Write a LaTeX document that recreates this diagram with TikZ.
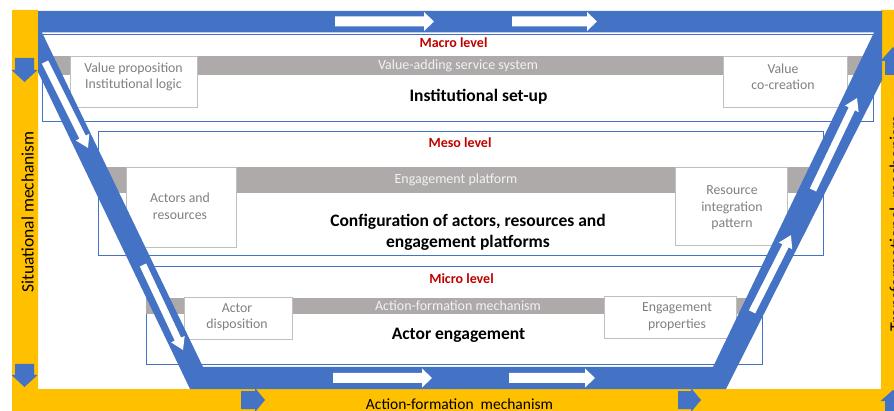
\documentclass[tikz,border=0pt]{standalone}
\usepackage{fontspec}
\setmainfont{Carlito}

\definecolor{flowblue}{HTML}{4472C4}
\definecolor{amber}{HTML}{FFC000}
\definecolor{bargrey}{HTML}{AEAAAA}
\definecolor{barwhite}{HTML}{F2F2F2}
\definecolor{boxline}{HTML}{BFBFBF}
\definecolor{boxtext}{HTML}{808080}
\definecolor{levelred}{HTML}{C00000}

\newcommand{\dgBoxFont}{\fontsize{13.8}{16.5}\selectfont}
\newcommand{\dgBarFont}{\fontsize{14}{16}\selectfont}
\newcommand{\dgTagFont}{\fontsize{14}{16}\selectfont\bfseries}
\newcommand{\dgTitleFont}{\fontsize{17.5}{21}\selectfont\bfseries}

% straight block arrow centred at (#1,#2), rotated by #3;
% #4 length, #5 shaft half-width, #6 head half-width, #7 head length, #8 colour
\newcommand{\flowarrow}[8]{%
  \fill[#8, shift={(#1,#2)}, rotate=#3]
    ({-0.5*#4pt},{-#5pt}) -- ({0.5*#4pt-#7pt},{-#5pt}) -- ({0.5*#4pt-#7pt},{-#6pt})
    -- ({0.5*#4pt},0pt) -- ({0.5*#4pt-#7pt},{#6pt}) -- ({0.5*#4pt-#7pt},{#5pt})
    -- ({-0.5*#4pt},{#5pt}) -- cycle;}

\begin{document}
\begin{tikzpicture}[x=1pt,y=-1pt,
  levelbox/.style={draw=flowblue, line width=0.9pt, fill=white, inner sep=0pt, outer sep=0pt},
  greybar/.style={fill=bargrey, inner sep=0pt, outer sep=0pt},
  bartext/.style={text=barwhite, font=\dgBarFont, inner sep=0pt},
  infobox/.style={draw=boxline, line width=0.9pt, fill=white, inner sep=0pt, outer sep=0pt},
  infotext/.style={text=boxtext, font=\dgBoxFont, align=center, inner sep=0pt},
  leveltag/.style={text=levelred, font=\dgTagFont, inner sep=0pt},
  titletext/.style={font=\dgTitleFont, align=center, inner sep=0pt},
  sidetext/.style={text=black, inner sep=0pt}]

\useasboundingbox (0,0) rectangle (894,411);
\clip (0,0) rectangle (894,411);

% yellow outer frame (left, bottom, right)
\fill[amber] (12,10) -- (38,10) -- (38,389) -- (881,389) -- (881,10) -- (894,10)
  -- (894,411) -- (12,411) -- cycle;

% level frames
\node[levelbox, minimum width=831pt, minimum height=87pt] (macro) at (457.5,77.5) {};
\node[levelbox, minimum width=725pt, minimum height=124pt] (meso) at (460.5,193) {};
\node[levelbox, minimum width=616pt, minimum height=98pt] (micro) at (454,315) {};

% grey mechanism bars
\node[greybar, minimum width=831pt, minimum height=19pt] (macrobar) at (457.5,65.5) {};
\node[greybar, minimum width=725pt, minimum height=26pt] (mesobar) at (460.5,180) {};
\node[greybar, minimum width=616pt, minimum height=16pt] (microbar) at (454,306) {};
\node[bartext] (macrobartext) at (458,65.5) {Value-adding service system};
\node[bartext] (mesobartext) at (456,180) {Engagement platform};
\node[bartext] (microbartext) at (458,306) {Action-formation mechanism};

% side boxes
\node[infobox, minimum width=127pt, minimum height=51pt] (vpbox) at (133.5,81.5) {};
\node[infotext] (vptext) at (133.5,77) {Value proposition\\Institutional logic};
\node[infobox, minimum width=124pt, minimum height=51pt] (vcbox) at (785,81.5) {};
\node[infotext] (vctext) at (783,77) {Value\\co-creation};
\node[infobox, minimum width=110pt, minimum height=80pt] (arbox) at (181,207) {};
\node[infotext] (artext) at (180,206.5) {Actors and\\resources};
\node[infobox, minimum width=112pt, minimum height=78pt] (ripbox) at (731,206) {};
\node[infotext] (riptext) at (732,208) {Resource\\integration\\pattern};
\node[infobox, minimum width=108pt, minimum height=42pt] (adbox) at (238,318) {};
\node[infotext] (adtext) at (237,317) {Actor\\disposition};
\node[infobox, minimum width=132pt, minimum height=42pt] (epbox) at (670,317) {};
\node[infotext] (eptext) at (677,316.5) {Engagement\\properties};

% level tags and titles
\node[leveltag] (macrotag) at (453.5,43) {Macro level};
\node[leveltag] (mesotag) at (460,143) {Meso level};
\node[leveltag] (microtag) at (461.5,279) {Micro level};
\node[titletext] (insttitle) at (478.5,97) {Institutional set-up};
\node[titletext] (conftitle) at (468,232) {Configuration of actors, resources and\\engagement platforms};
\node[titletext] (engtitle) at (458.5,335) {Actor engagement};

% blue flow band around the three levels
\fill[flowblue, even odd rule]
  (38,11) -- (882,11) -- (882,80) -- (726,389) -- (190,389) -- (38,72) -- cycle
  (42,32.5) -- (874,32.5) -- (713,367) -- (203,367) -- cycle;

% white arrows along the band
\flowarrow{384.5}{21.5}{0}{99}{5}{9.5}{10}{white}
\flowarrow{554.5}{21.5}{0}{85}{5}{9.5}{10}{white}
\flowarrow{382.5}{378}{0}{99}{5}{9.5}{10}{white}
\flowarrow{552}{378}{0}{86}{5}{9.5}{10}{white}
\flowarrow{66.5}{105}{-63.4}{96}{3.5}{7.5}{12}{white}
\flowarrow{163}{307.5}{-64.8}{94}{3.5}{7.5}{12}{white}
\flowarrow{771.5}{273.5}{63.1}{86}{3.5}{7.5}{12}{white}
\flowarrow{835}{144}{64.4}{102}{3.5}{7.5}{12}{white}

% blue arrows on the yellow frame
\flowarrow{24.5}{70}{-90}{24}{9.5}{13}{12}{flowblue}
\flowarrow{24.5}{375.5}{-90}{23}{9.5}{13}{12}{flowblue}
\flowarrow{253}{400}{0}{24}{9}{12}{10}{flowblue}
\flowarrow{689.5}{400}{0}{23}{9}{12}{10}{flowblue}
\flowarrow{893}{61}{90}{28}{8}{12.5}{14}{flowblue}
\flowarrow{893}{402}{90}{24}{8}{12.5}{11}{flowblue}

% mechanism labels on the yellow frame
\node[sidetext, font=\fontsize{17.5}{20}\selectfont, rotate=90, anchor=base] (situational) at (33.5,212) {Situational mechanism};
\node[sidetext, font=\fontsize{18}{20}\selectfont, rotate=90, anchor=base] (transformational) at (902,223) {Transformational\ \ mechanism};
\node[sidetext, font=\fontsize{15.5}{18}\selectfont, anchor=base] (actionform) at (459.5,409) {Action-formation\ \ mechanism};
\end{tikzpicture}
\end{document}
